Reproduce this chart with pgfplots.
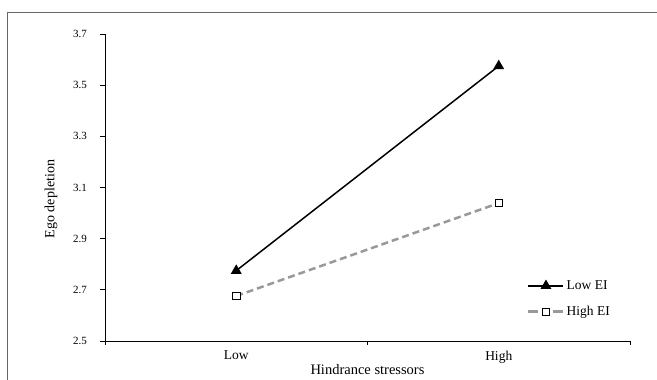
\documentclass[border=0pt]{standalone}
\usepackage{pgfplots}
\pgfplotsset{compat=1.18}
\usepackage{fontspec}
\setmainfont{Liberation Serif}
\definecolor{frameGray}{HTML}{666666}
\definecolor{hiGray}{HTML}{999999}
\begin{document}
\begin{tikzpicture}[x=1pt,y=1pt]
\useasboundingbox (0,0) rectangle (657,380);
\draw[frameGray, line width=1pt] (7.5,0) -- (7.5,367.5) -- (657,367.5);
\begin{axis}[
  at={(105pt,39pt)}, anchor=south west,
  scale only axis, width=525pt, height=307pt,
  xmin=0, xmax=2, ymin=2.5, ymax=3.7,
  axis lines=left, axis line style={-, line width=0.8pt},
  xtick={0.5,1.5}, xticklabels={Low,High},
  major x tick style={draw=none},
  minor xtick={0,1,2}, minor tick length=4pt,
  ytick={2.5,2.7,2.9,3.1,3.3,3.5,3.7},
  major tick length=5.5pt,
  tick align=outside,
  tick style={black, line width=0.8pt},
  yticklabel style={xshift=-9pt, font=\fontsize{11}{13}\selectfont},
  y tick label style={/pgf/number format/.cd, fixed, fixed zerofill, precision=1, assume math mode=true},
  xticklabel style={yshift=-1pt, font=\fontsize{13.5}{15}\selectfont},
  xlabel={Hindrance stressors},
  xlabel style={font=\fontsize{14.5}{16}\selectfont, at={(axis description cs:0.5,0)}, anchor=base, yshift=-34pt},
  ylabel={Ego depletion},
  ylabel style={font=\fontsize{14}{16}\selectfont, at={(axis description cs:-0.103,0.4625)}, anchor=center, rotate=0},
  legend style={at={(0.80,0.065)}, anchor=south west, draw=none, fill=none,
    font=\fontsize{13.5}{15}\selectfont, row sep=11pt, inner sep=2pt},
  legend cell align=left,
  clip=false,
]
\addplot[black, line width=1.5pt, mark=triangle*, mark size=4.8pt, mark options={solid, fill=black},
  legend image code/.code={\draw[mark repeat=2,mark phase=2] plot coordinates {(0pt,0pt) (17.5pt,0pt) (35pt,0pt)};}]
  coordinates {(0.5,2.775) (1.5,3.575)};
\addlegendentry{Low EI}
\addplot[hiGray, line width=2.5pt, dash pattern=on 7pt off 4pt, mark=square*, mark size=3.6pt, mark options={solid, fill=white, draw=black, line width=0.6pt},
  legend image code/.code={\draw[dash pattern=on 10pt off 15pt] (0pt,0pt) -- (35pt,0pt);
    \draw[mark options={solid, fill=white, draw=black, line width=0.6pt}] plot coordinates {(17.5pt,0pt)};}]
  coordinates {(0.5,2.676) (1.5,3.039)};
\addlegendentry{High EI}
\end{axis}
\end{tikzpicture}
\end{document}
